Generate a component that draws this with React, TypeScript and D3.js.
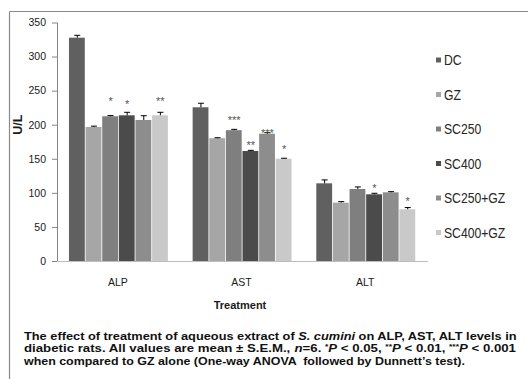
import React from "react";
import * as d3 from "d3";

const categories = ["ALP", "AST", "ALT"];
const seriesNames = ["DC", "GZ", "SC250", "SC400", "SC250+GZ", "SC400+GZ"];
const yTicks = [0, 50, 100, 150, 200, 250, 300, 350];

// means (U/L) per series, order ALP, AST, ALT
const meanDC = [327.7, 225.6, 114.0];
const meanGZ = [196.7, 180.2, 85.6];
const meanSC250 = [212.4, 192.0, 105.7];
const meanSC400 = [213.8, 161.4, 97.9];
const meanSC250GZ = [206.9, 186.8, 100.8];
const meanSC400GZ = [213.8, 150.1, 75.9];

// S.E.M.
const semDC = [3.5, 5.9, 5.0];
const semGZ = [1.2, 0.7, 1.5];
const semSC250 = [1.0, 1.2, 3.0];
const semSC400 = [4.4, 1.0, 1.5];
const semSC250GZ = [6.3, 1.5, 1.0];
const semSC400GZ = [4.4, 0.7, 2.5];

// significance marks and the level (U/L) at which they are written
const sigDC = ["", "", ""];
const sigGZ = ["", "", ""];
const sigSC250 = ["*", "***", ""];
const sigSC400 = ["*", "**", "*"];
const sigSC250GZ = ["", "***", ""];
const sigSC400GZ = ["**", "*", "*"];
const sigLevelSC250 = [237.7, 209.9, 0];
const sigLevelSC400 = [233.3, 173.2, 110.5];
const sigLevelSC250GZ = [0, 191.2, 0];
const sigLevelSC400GZ = [237.7, 167.3, 92.0];
const sigLevelNone = [0, 0, 0];

// caption lines: [text, style] where style n = normal, i = italic, s = superscript
const captionLine1 = [
  ["The effect of treatment of aqueous extract of ", "n"],
  ["S. cumini", "i"],
  [" on ALP, AST, ALT levels in", "n"],
];
const captionLine2 = [
  ["diabetic rats. All values are mean ± S.E.M., ", "n"],
  ["n", "i"],
  ["=6. ", "n"],
  ["*", "s"],
  ["P", "i"],
  [" < 0.05, ", "n"],
  ["**", "s"],
  ["P", "i"],
  [" < 0.01, ", "n"],
  ["***", "s"],
  ["P", "i"],
  [" < 0.001", "n"],
];
const captionLine3 = [["when compared to GZ alone (One-way ANOVA  followed by Dunnett’s test).", "n"]];

const seriesColors = ["#606060", "#a6a6a6", "#7f7f7f", "#4b4b4b", "#8d8d8d", "#c9c9c9"];

const means = [meanDC, meanGZ, meanSC250, meanSC400, meanSC250GZ, meanSC400GZ];
const sems = [semDC, semGZ, semSC250, semSC400, semSC250GZ, semSC400GZ];
const sigs = [sigDC, sigGZ, sigSC250, sigSC400, sigSC250GZ, sigSC400GZ];
const sigLevels = [sigLevelNone, sigLevelNone, sigLevelSC250, sigLevelSC400, sigLevelSC250GZ, sigLevelSC400GZ];

const W = 528;
const H = 379;
const plotLeft = 57;
const plotRight = 428;
const plotTop = 22.5;
const plotBottom = 261;

const FAMILY = "'Liberation Sans', Arial, sans-serif";
const CAP_SIZE = 11.6;
const SUP_SIZE = 7.5;

let measureCtx: CanvasRenderingContext2D | null = null;
function measure(text: string, style: string): number {
  if (!measureCtx) {
    const c = document.createElement("canvas");
    measureCtx = c.getContext("2d");
  }
  if (!measureCtx) return text.length * 6;
  const size = style === "s" ? SUP_SIZE : CAP_SIZE;
  measureCtx.font = `${style === "i" ? "italic " : ""}bold ${size}px ${FAMILY}`;
  return measureCtx.measureText(text).width;
}

function CaptionLine({ segs, x, y, width, id }: { segs: string[][]; x: number; y: number; width: number; id: string }) {
  let acc = 0;
  const placed = segs.map(([t, st]) => {
    const px = acc;
    acc += measure(t, st);
    return { t, st, px };
  });
  const k = width / acc;
  return (
    <g transform={`translate(${x},${y}) scale(${k},1)`}>
      {placed.map((p, i) => (
        <text
          key={id + i}
          x={p.px}
          y={p.st === "s" ? -3.5 : 0}
          fontSize={p.st === "s" ? SUP_SIZE : CAP_SIZE}
          fontStyle={p.st === "i" ? "italic" : "normal"}
          xmlSpace="preserve"
          style={{ whiteSpace: "pre" }}
        >
          {p.t}
        </text>
      ))}
    </g>
  );
}

export default function App() {
  const y = d3.scaleLinear().domain([0, 350]).range([plotBottom, plotTop]);
  const x0 = d3.scaleBand().domain(categories).range([plotLeft, plotRight]).paddingInner(0).paddingOuter(0);
  const x1 = d3.scaleBand().domain(seriesNames).range([0, x0.bandwidth()]).paddingInner(0).paddingOuter(0.72);
  const bw = x1.bandwidth();

  return (
    <svg width={W} height={H} style={{ position: "absolute", left: 0, top: 0, background: "#fff" }} fontFamily={FAMILY}>
      {/* frame */}
      <line x1={9.5} x2={W} y1={11.5} y2={11.5} stroke="#8a8a8a" strokeWidth={1.2} />
      <line x1={9.5} x2={9.5} y1={11.5} y2={H} stroke="#8a8a8a" strokeWidth={1.2} />

      {/* y axis */}
      <line x1={plotLeft + 0.5} x2={plotLeft + 0.5} y1={y(350)} y2={y(0)} stroke="#868686" />
      {yTicks.map((t) => (
        <g key={t}>
          <line x1={plotLeft - 5} x2={plotLeft} y1={y(t) + 0.5} y2={y(t) + 0.5} stroke="#868686" />
          <text x={46} y={y(t) + 3.8} fontSize={10.5} textAnchor="end" fill="#1a1a1a">
            {t}
          </text>
        </g>
      ))}
      <text
        transform={`translate(22,${(y(350) + y(0)) / 2 - 17}) rotate(-90)`}
        fontSize={12.5}
        fontWeight="bold"
        textAnchor="middle"
        fill="#1a1a1a"
      >
        U/L
      </text>

      {/* bars */}
      {seriesNames.map((s, si) =>
        categories.map((c, ci) => {
          const v = means[si][ci];
          const bx = (x0(c) as number) + (x1(s) as number);
          return (
            <rect
              key={s + c}
              x={bx}
              y={y(v)}
              width={bw - 0.8}
              height={y(0) - y(v)}
              fill={seriesColors[si]}
            />
          );
        })
      )}

      {/* error bars */}
      {seriesNames.map((s, si) =>
        categories.map((c, ci) => {
          const v = means[si][ci];
          const e = sems[si][ci];
          const cx = (x0(c) as number) + (x1(s) as number) + bw / 2;
          return (
            <g key={"e" + s + c} stroke="#000" strokeWidth={1}>
              <line x1={cx} x2={cx} y1={y(v)} y2={y(v + e)} />
              <line x1={cx - 3} x2={cx + 3} y1={y(v + e)} y2={y(v + e)} />
            </g>
          );
        })
      )}

      {/* significance */}
      {seriesNames.map((s, si) =>
        categories.map((c, ci) => {
          const m = sigs[si][ci];
          if (!m) return null;
          const cx = (x0(c) as number) + (x1(s) as number) + bw / 2;
          return (
            <text key={"s" + s + c} x={cx} y={y(sigLevels[si][ci]) + 6.4} fontSize={11} textAnchor="middle" fill="#555">
              {m}
            </text>
          );
        })
      )}

      {/* x axis */}
      <line x1={plotLeft} x2={plotRight} y1={plotBottom + 0.5} y2={plotBottom + 0.5} stroke="#bdbdbd" strokeWidth={1.2} />
      {categories.map((c) => (
        <text
          key={c}
          x={(x0(c) as number) + x0.bandwidth() / 2 - 1}
          y={285.6}
          fontSize={10.5}
          textAnchor="middle"
          fill="#1a1a1a"
        >
          {c}
        </text>
      ))}
      <text x={240} y={309} fontSize={11} fontWeight="bold" textAnchor="middle" fill="#1a1a1a">
        Treatment
      </text>

      {/* legend */}
      {seriesNames.map((s, i) => {
        const by = 65 + i * 34.5;
        return (
          <g key={"l" + s}>
            <rect x={436} y={by - 7.5} width={5} height={5} fill={seriesColors[i]} />
            <text transform={`translate(444,${by}) scale(0.84,1)`} fontSize={14.5} fill="#262626">
              {s}
            </text>
          </g>
        );
      })}

      {/* caption */}
      <g fontWeight="bold" fill="#111">
        <CaptionLine id="c1" segs={captionLine1} x={24} y={339.6} width={494} />
        <CaptionLine id="c2" segs={captionLine2} x={24} y={352.3} width={492} />
        <CaptionLine id="c3" segs={captionLine3} x={24} y={365} width={442} />
      </g>
    </svg>
  );
}
